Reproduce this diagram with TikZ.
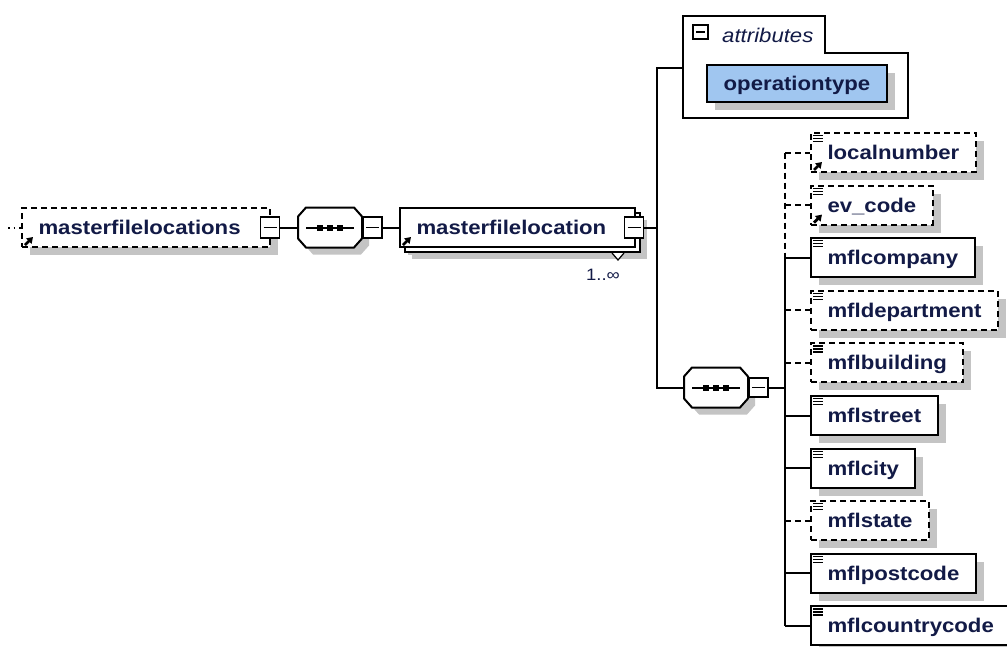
\documentclass[tikz,border=0pt]{standalone}
\usepackage{fontspec}
\newfontfamily\xsdfont[FakeStretch=1.12]{Liberation Sans}
\usetikzlibrary{calc,shadows,arrows.meta}

\definecolor{xsdtext}{RGB}{18,26,70}
\definecolor{xsdshade}{RGB}{196,196,196}
\definecolor{attrblue}{RGB}{160,198,240}

\tikzset{
  xsdbox/.style={draw, fill=white, line width=2, text=xsdtext,
    font=\xsdfont\fontsize{19.8}{22}\selectfont\bfseries,
    minimum height=39, inner xsep=16.5, inner ysep=0, text height=14, text depth=0,
    general shadow={fill=xsdshade, shadow xshift=8pt, shadow yshift=-8pt}},
  reqelem/.style={xsdbox, anchor=west},
  optelem/.style={xsdbox, anchor=west, dash pattern=on 6pt off 4pt},
  reqlink/.style={line width=2},
  optlink/.style={line width=2, dash pattern=on 6pt off 4pt},
  minusbtn/.style={draw, fill=white, line width=1.8, minimum width=19, minimum height=21, inner sep=0,
    path picture={\draw[line width=1.6] ([xshift=3pt]path picture bounding box.west) -- ([xshift=-3pt]path picture bounding box.east);}},
  seqbox/.style={minimum width=64, minimum height=40, inner sep=0},
}

\begin{document}
\begin{tikzpicture}[x=1pt,y=-1pt]
  \useasboundingbox[fill=white] (0,0) rectangle (1007,646);

  % attributes group
  \draw[line width=1.8, fill=white] (683,16) -| (825,53) -| (908,118) -- (683,118) -- cycle;
  \node[minusbtn, minimum width=15, minimum height=14] (attrbtn) at (700.5,32) {};
  \node[anchor=base west, inner sep=0, text=xsdtext,
    font=\xsdfont\fontsize{19.8}{22}\selectfont\itshape] (attrlbl) at (722,42) {attributes};
  \node[xsdbox, fill=attrblue, minimum width=180, minimum height=37] (optype) at (797,83.5) {operationtype};
  \coordinate (attrs) at (683,68);

  % main row
  \coordinate (tail) at (8,227.5);
  \node[optelem, text width=215, align=left] (mfls) at (21,227.5) {masterfilelocations};
  \node[seqbox] (seqA) at (330,227.5) {};
  \node[seqbox] (seqB) at (716,387.5) {};
  \node[reqelem, text width=202, align=left, general shadow={fill=xsdshade, shadow xshift=12pt, shadow yshift=-12pt},
    general shadow={draw, fill=white, line width=2, shadow xshift=5pt, shadow yshift=-5pt}] (mfl) at (399,227.5) {masterfilelocation};
  \draw[line width=1.2, fill=white] ([shift={(-24,5)}]mfl.south east) -- ++(6,7) -- ++(6,-7);
  \node[text=xsdtext, font=\xsdfont\fontsize{16.5}{18}\selectfont, inner sep=0] (mult) at (603,275) {1..∞};

  \foreach \s in {seqA,seqB} {
    \begin{scope}[shift={(\s.center)}]
      \fill[xsdshade, shift={(7,7)}] (-32,-11) -- (-24,-20) -- (24,-20) -- (32,-11) -- (32,11) -- (24,20) -- (-24,20) -- (-32,11) -- cycle;
      \draw[line width=2, fill=white] (-32,-11) -- (-24,-20) -- (24,-20) -- (32,-11) -- (32,11) -- (24,20) -- (-24,20) -- (-32,11) -- cycle;
      \draw[line width=2] (-24,0) -- (24,0);
      \foreach \dx in {-10,0,10}
        \fill (\dx-3,-3) rectangle (\dx+3,3);
    \end{scope}
  }

  \node[minusbtn] (mflsbtn) at ([xshift=-1pt]mfls.east) {};
  \node[minusbtn, anchor=west] (seqAbtn) at (seqA.east) {};
  \node[minusbtn] (mflbtn) at ([xshift=-2pt]mfl.east) {};
  \node[minusbtn, anchor=west, minimum height=19] (seqBbtn) at (seqB.east) {};

  \draw[line width=2, dash pattern=on 1.5pt off 4pt] (tail) -- (mfls.west);
  \draw[reqlink] (mflsbtn.east) -- (seqA.west);
  \draw[reqlink] (seqAbtn.east) -- (mfl.west);

  % spine to attributes and child sequence
  \coordinate (sp1) at (657,227.5);
  \draw[reqlink] (mflbtn.east) -- (sp1);
  \draw[reqlink] (attrs) -- (attrs -| sp1) -- (sp1 |- seqB.west) -- (seqB.west);

  % child elements
  \coordinate (sp2) at (785,387.5);
  \draw[reqlink] (seqBbtn.east) -- (sp2);
  \foreach \nm/\lbl/\kind [count=\i from 0] in {loc/localnumber/opt, evc/ev\_code/opt, comp/mflcompany/req,
      dept/mfldepartment/opt, bldg/mflbuilding/opt, street/mflstreet/req, city/mflcity/req,
      state/mflstate/opt, post/mflpostcode/req, ctry/mflcountrycode/req} {
    \node[\kind elem] (\nm) at (810,152.5+52.6*\i) {\lbl};
    \draw[\kind link] (sp2 |- \nm.west) -- (\nm.west);
  }
  \draw[optlink] (sp2 |- loc.west) -- (sp2 |- comp.west);
  \draw[reqlink] (sp2 |- comp.west) -- (sp2 |- ctry.west);

  % icons
  \foreach \nm in {loc,evc,comp,dept,bldg,street,city,state,post,ctry}
    \foreach \dy in {3.5,6.5,9.5}
      \draw[line width=1.2] ([shift={(3,\dy)}]\nm.north west) -- ++(10,0);
  \foreach \nm in {mfls,mfl,loc,evc}
    \draw[line width=2.8, -{Triangle[length=6pt,width=7.5pt]}] ([shift={(4,-3)}]\nm.south west) -- ++(8,-8);
\end{tikzpicture}
\end{document}
